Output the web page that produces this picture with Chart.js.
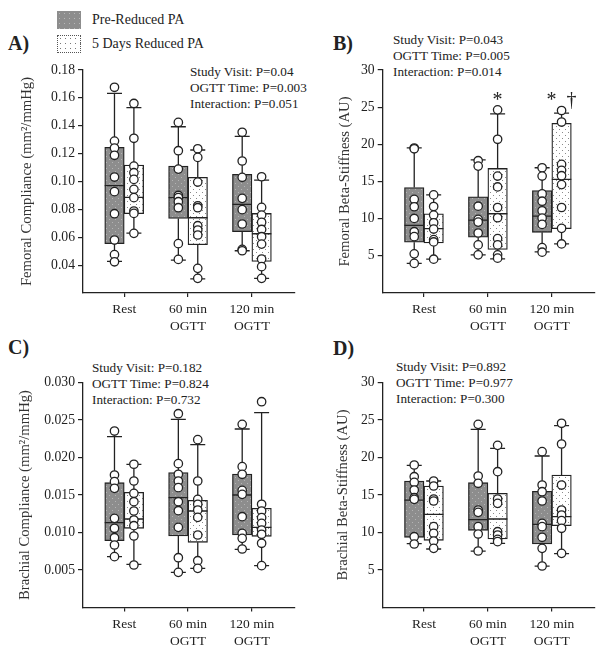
<!DOCTYPE html>
<html lang="en">
<head>
    <meta charset="UTF-8">
    <title>Reduced PA box plots</title>
    <script src="https://cdn.jsdelivr.net/npm/chart.js"></script>
    <style>
        body { margin: 0; width: 604px; height: 655px; background: #fff; position: relative; overflow: hidden;
               font-family: "Liberation Serif", "Times New Roman", serif; color: #222; }
        canvas { position: absolute; }
        .letter { position: absolute; font-size: 20px; font-weight: bold; line-height: 20px; }
        .stats { position: absolute; font-size: 13.2px; line-height: 15.8px; white-space: nowrap; }
        .legend { position: absolute; left: 57px; top: 8px; font-size: 14px; }
        .legend div { height: 24px; display: flex; align-items: center; }
        .swatch { width: 24px; height: 18px; margin-right: 11px; box-sizing: border-box; }
        .sw-pre { background: #8d8d8d radial-gradient(#b8b8b8 0.7px, transparent 0.9px) 0 0 / 5px 5px; }
        .sw-post { background: #fff radial-gradient(#777 0.6px, transparent 0.9px) 0 0 / 5px 5px; border: 1px dotted #555; }
    </style>
</head>
<body>
    <div class="legend">
        <div><span class="swatch sw-pre"></span><span id="lg0"></span></div>
        <div><span class="swatch sw-post"></span><span id="lg1"></span></div>
    </div>

    <div class="letter" style="left:8px; top:33px">A)</div>
    <div class="letter" style="left:333px; top:33px">B)</div>
    <div class="letter" style="left:8px; top:337px">C)</div>
    <div class="letter" style="left:333px; top:338px">D)</div>

    <div class="stats" id="statsA" style="left:190px; top:64px"></div>
    <div class="stats" id="statsB" style="left:393px; top:32px"></div>
    <div class="stats" id="statsC" style="left:92px; top:360px"></div>
    <div class="stats" id="statsD" style="left:396px; top:359px"></div>

    <canvas id="chartA" width="300" height="290" style="left:0; top:50px"></canvas>
    <canvas id="chartB" width="300" height="290" style="left:300px; top:50px"></canvas>
    <canvas id="chartC" width="300" height="293" style="left:0; top:362px"></canvas>
    <canvas id="chartD" width="300" height="293" style="left:300px; top:362px"></canvas>

    <script>
        const groups = ['Pre-Reduced PA', '5 Days Reduced PA'];
        const visits = ['Rest', ['60 min', 'OGTT'], ['120 min', 'OGTT']];

        // box = [low whisker, Q1, median, Q3, high whisker] for Rest, 60 min, 120 min
        // A) femoral compliance
        const aPreBox = [[0.0427, 0.0554, 0.0970, 0.1245, 0.1633], [0.0436, 0.0735, 0.0884, 0.1111, 0.1393], [0.0503, 0.0640, 0.0836, 0.1051, 0.1324]];
        const aPostBox = [[0.0630, 0.0769, 0.0886, 0.1118, 0.1530], [0.0302, 0.0546, 0.0740, 0.1030, 0.1226], [0.0305, 0.0427, 0.0625, 0.0771, 0.1010]];
        const aPrePts = [[0.1676, 0.129, 0.124, 0.1188, 0.1032, 0.0927, 0.0769, 0.058, 0.0475, 0.0424],
                         [0.1424, 0.1221, 0.1089, 0.090, 0.0884, 0.0855, 0.0812, 0.0554, 0.0441],
                         [0.1353, 0.1147, 0.103, 0.0879, 0.0798, 0.0695, 0.0513, 0.0503]];
        const aPostPts = [[0.156, 0.131, 0.111, 0.1063, 0.1015, 0.0944, 0.0884, 0.0788, 0.0771, 0.0628],
                          [0.1235, 0.1173, 0.0996, 0.0826, 0.0812, 0.0683, 0.0652, 0.0616, 0.0377, 0.0305],
                          [0.1034, 0.0814, 0.0759, 0.0707, 0.0656, 0.0604, 0.0551, 0.0444, 0.0389, 0.0305]];
        const aTicks = [0.04, 0.06, 0.08, 0.10, 0.12, 0.14, 0.16, 0.18];
        const aStats = ['Study Visit: P=0.04', 'OGTT Time: P=0.003', 'Interaction: P=0.051'];

        // B) femoral beta-stiffness
        const bPreBox = [[3.98, 6.83, 9.1, 14.18, 19.52], [5.13, 7.5, 9.81, 12.93, 17.92], [5.53, 8.16, 10.34, 13.77, 16.85]];
        const bPostBox = [[4.55, 6.74, 8.65, 10.66, 13.2], [4.6, 5.85, 10.66, 16.76, 24.1], [6.6, 8.65, 15.29, 22.82, 24.2]];
        const bPrePts = [[19.5, 19.4, 12.6, 11.6, 10.03, 8.25, 7.58, 5.27, 3.98],
                         [17.8, 17.07, 11.68, 9.9, 9.54, 8.07, 6.47, 5.13],
                         [16.85, 15.73, 13.33, 12.35, 11.06, 10.08, 9.23, 6.11, 5.49]];
        const bPostPts = [[13.2, 11.64, 10.48, 9.45, 8.6, 7.18, 6.87, 4.55],
                          [24.64, 20.68, 15.73, 14.27, 11.5, 10.12, 7.32, 6.47, 5.13, 4.69],
                          [24.55, 23.0, 17.3, 16.5, 15.78, 14.58, 11.5, 8.7, 6.6]];
        const bPostSig = ['', '*', '*  \u2020'];
        const bSigAt = 25.1;
        const bTicks = [5, 10, 15, 20, 25, 30];
        const bStats = ['Study Visit: P=0.043', 'OGTT Time: P=0.005', 'Interaction: P=0.014'];

        // C) brachial compliance
        const cPreBox = [[0.00678, 0.00891, 0.01131, 0.01664, 0.02278], [0.00469, 0.00953, 0.01464, 0.01798, 0.02509], [0.00776, 0.00967, 0.0150, 0.0178, 0.0238]];
        const cPostBox = [[0.00576, 0.01056, 0.0118, 0.01536, 0.01909], [0.00522, 0.00869, 0.01287, 0.01429, 0.02171], [0.00558, 0.00949, 0.01069, 0.01322, 0.02598]];
        const cPrePts = [[0.02353, 0.01767, 0.01678, 0.01589, 0.01189, 0.01056, 0.00931, 0.00833, 0.00678],
                         [0.02584, 0.01918, 0.01776, 0.01687, 0.01598, 0.01411, 0.01291, 0.01069, 0.00664, 0.00469],
                         [0.02442, 0.01878, 0.01776, 0.01562, 0.01509, 0.01211, 0.00989, 0.00922, 0.0078]];
        const cPostPts = [[0.0191, 0.01687, 0.01522, 0.01411, 0.01287, 0.01167, 0.01091, 0.00953, 0.00567],
                          [0.02238, 0.01687, 0.01442, 0.01376, 0.013, 0.01202, 0.00967, 0.00624, 0.00522],
                          [0.02744, 0.01376, 0.01287, 0.01198, 0.01122, 0.01033, 0.00976, 0.00856, 0.00558]];
        const cTicks = [0.005, 0.010, 0.015, 0.020, 0.025, 0.030];
        const cStats = ['Study Visit: P=0.182', 'OGTT Time: P=0.824', 'Interaction: P=0.732'];

        // D) brachial beta-stiffness
        const dPreBox = [[8.51, 9.36, 14.33, 16.87, 18.96], [7.53, 10.29, 11.71, 16.64, 23.76], [5.53, 8.47, 11.09, 15.49, 20.2]];
        const dPostBox = [[7.8, 8.96, 12.42, 16.2, 16.87], [8.56, 9.13, 11.8, 15.22, 21.22], [7.18, 10.91, 12.11, 17.67, 24.24]];
        const dPrePts = [[19.0, 17.44, 16.69, 15.67, 14.64, 14.42, 9.44, 8.47],
                         [24.42, 17.53, 16.56, 13.0, 12.69, 10.78, 9.8, 7.53],
                         [20.78, 16.33, 15.44, 14.2, 11.22, 10.78, 9.36, 7.89, 5.53]];
        const dPostPts = [[16.87, 16.2, 14.47, 14.2, 10.78, 9.89, 8.87, 7.89],
                          [21.62, 18.11, 14.47, 13.89, 10.11, 9.67, 9.09, 8.78],
                          [24.56, 21.8, 16.33, 13.0, 12.33, 11.58, 10.56, 7.22]];
        const dTicks = [5, 10, 15, 20, 25, 30];
        const dStats = ['Study Visit: P=0.892', 'OGTT Time: P=0.977', 'Interaction: P=0.300'];

        const FONT = '"Liberation Serif", "Times New Roman", serif';
        const INK = '#222';
        const sideOffset = 0.152;

        document.getElementById('lg0').textContent = groups[0];
        document.getElementById('lg1').textContent = groups[1];
        [['statsA', aStats], ['statsB', bStats], ['statsC', cStats], ['statsD', dStats]].forEach(([id, lines]) => {
            document.getElementById(id).innerHTML = lines.join('<br>');
        });

        function dotPattern(ctx, bg, dot) {
            const tile = document.createElement('canvas');
            tile.width = 6; tile.height = 6;
            const g = tile.getContext('2d');
            g.fillStyle = bg; g.fillRect(0, 0, 6, 6);
            g.fillStyle = dot; g.fillRect(1, 1, 1, 1); g.fillRect(4, 4, 1, 1);
            return ctx.createPattern(tile, 'repeat');
        }

        // whiskers, caps, medians and marks, placed with the chart's own scales
        const boxPlugin = {
            id: 'boxes',
            afterDatasetDraw(chart, args) {
                const ds = chart.data.datasets[args.index];
                if (!ds.stats) return;
                const ctx = chart.ctx, ys = chart.scales.y;
                ctx.save();
                ctx.strokeStyle = INK;
                ctx.lineWidth = 1.3;
                args.meta.data.forEach((bar, i) => {
                    const { x, width } = bar.getProps(['x', 'width'], true);
                    const [lo, q1, med, q3, hi] = ds.stats[i].map(v => ys.getPixelForValue(v));
                    const cap = 7.5, half = width / 2;
                    ctx.beginPath();
                    ctx.moveTo(x, q3); ctx.lineTo(x, hi);
                    ctx.moveTo(x, q1); ctx.lineTo(x, lo);
                    ctx.moveTo(x - cap, hi); ctx.lineTo(x + cap, hi);
                    ctx.moveTo(x - cap, lo); ctx.lineTo(x + cap, lo);
                    ctx.moveTo(x - half, med); ctx.lineTo(x + half, med);
                    ctx.stroke();
                    if (ds.sig && ds.sig[i]) {
                        ctx.fillStyle = INK;
                        ctx.font = '20px ' + FONT;
                        ctx.textAlign = 'center';
                        ctx.textBaseline = 'alphabetic';
                        ctx.fillText(ds.sig[i], x, ys.getPixelForValue(ds.sigAt));
                    }
                });
                ctx.restore();
            }
        };

        function boxPanel(id, p) {
            const canvas = document.getElementById(id);
            const ctx = canvas.getContext('2d');
            const pts = (vals, off) => vals.flatMap((col, i) => col.map(v => ({ x: i + off, y: v })));
            const boxes = (stats, off) => stats.map((s, i) => ({ x: i + off, y: [s[1], s[3]] }));
            const pointStyle = {
                type: 'scatter', order: 1, pointRadius: 4.2, pointBorderWidth: 1.3,
                pointBackgroundColor: '#fff', pointBorderColor: INK, clip: false
            };
            const barStyle = {
                type: 'bar', order: 2, grouped: false, barThickness: 19.5,
                borderColor: INK, borderWidth: 1.3, borderSkipped: false
            };
            new Chart(ctx, {
                type: 'scatter',
                data: {
                    datasets: [
                        { ...pointStyle, label: groups[0], data: pts(p.prePts, -sideOffset) },
                        { ...pointStyle, label: groups[1], data: pts(p.postPts, sideOffset) },
                        { ...barStyle, label: groups[0], data: boxes(p.preBox, -sideOffset), stats: p.preBox,
                          backgroundColor: dotPattern(ctx, '#8d8d8d', '#b4b4b4') },
                        { ...barStyle, label: groups[1], data: boxes(p.postBox, sideOffset), stats: p.postBox,
                          sig: p.postSig, sigAt: p.sigAt,
                          backgroundColor: dotPattern(ctx, '#ffffff', '#8a8a8a') }
                    ]
                },
                options: {
                    responsive: false,
                    animation: false,
                    layout: { padding: { left: 0, right: 5, top: p.padTop, bottom: 0 } },
                    plugins: { legend: { display: false }, tooltip: { enabled: false } },
                    scales: {
                        x: {
                            type: 'linear', min: -0.645, max: 2.667, offset: false,
                            afterBuildTicks: s => { s.ticks = visits.map((_, i) => ({ value: i })); },
                            afterFit: s => { s.height = p.xHeight; },
                            ticks: {
                                callback: v => visits[Math.round(v)],
                                autoSkip: false, maxRotation: 0, padding: 4.5, color: INK,
                                font: { family: FONT, size: 13.5, lineHeight: 1.25 }
                            },
                            grid: { offset: false, drawOnChartArea: false, tickLength: 4, color: INK, lineWidth: 1.2 },
                            border: { color: INK, width: 1.3 }
                        },
                        y: {
                            type: 'linear', min: p.min, max: p.max, offset: false,
                            afterBuildTicks: s => { s.ticks = p.ticks.map(v => ({ value: v })); },
                            afterFit: s => { s.width = p.yWidth; },
                            ticks: {
                                callback: v => v.toFixed(p.decimals),
                                padding: 3, color: INK,
                                font: { family: FONT, size: 13.7 }
                            },
                            grid: { drawOnChartArea: false, tickLength: 5, color: INK, lineWidth: 1.2 },
                            border: { color: INK, width: 1.3 },
                            title: {
                                display: true, text: p.title, color: '#333',
                                font: { family: FONT, size: 14.7 },
                                padding: { top: p.titlePad, bottom: 0 }
                            }
                        }
                    }
                },
                plugins: [boxPlugin]
            });
        }

        boxPanel('chartA', {
            preBox: aPreBox, postBox: aPostBox, prePts: aPrePts, postPts: aPostPts,
            ticks: aTicks, min: 0.02, max: 0.18, decimals: 2,
            title: 'Femoral Compliance (mm\u00B2/mmHg)',
            padTop: 20, xHeight: 47, yWidth: 83, titlePad: 18.2
        });
        boxPanel('chartB', {
            preBox: bPreBox, postBox: bPostBox, prePts: bPrePts, postPts: bPostPts,
            postSig: bPostSig, sigAt: bSigAt,
            ticks: bTicks, min: 0, max: 30, decimals: 0,
            title: 'Femoral Beta-Stiffness (AU)',
            padTop: 20, xHeight: 47, yWidth: 82.7, titlePad: 36.2
        });
        boxPanel('chartC', {
            preBox: cPreBox, postBox: cPostBox, prePts: cPrePts, postPts: cPostPts,
            ticks: cTicks, min: 0, max: 0.030, decimals: 3,
            title: 'Brachial Compliance (mm\u00B2/mmHg)',
            padTop: 20.5, xHeight: 47.5, yWidth: 83, titlePad: 16.2
        });
        boxPanel('chartD', {
            preBox: dPreBox, postBox: dPostBox, prePts: dPrePts, postPts: dPostPts,
            ticks: dTicks, min: 0, max: 30, decimals: 0,
            title: 'Brachial Beta-Stiffness (AU)',
            padTop: 20.5, xHeight: 47.5, yWidth: 82.7, titlePad: 34.6
        });
    </script>
</body>
</html>
